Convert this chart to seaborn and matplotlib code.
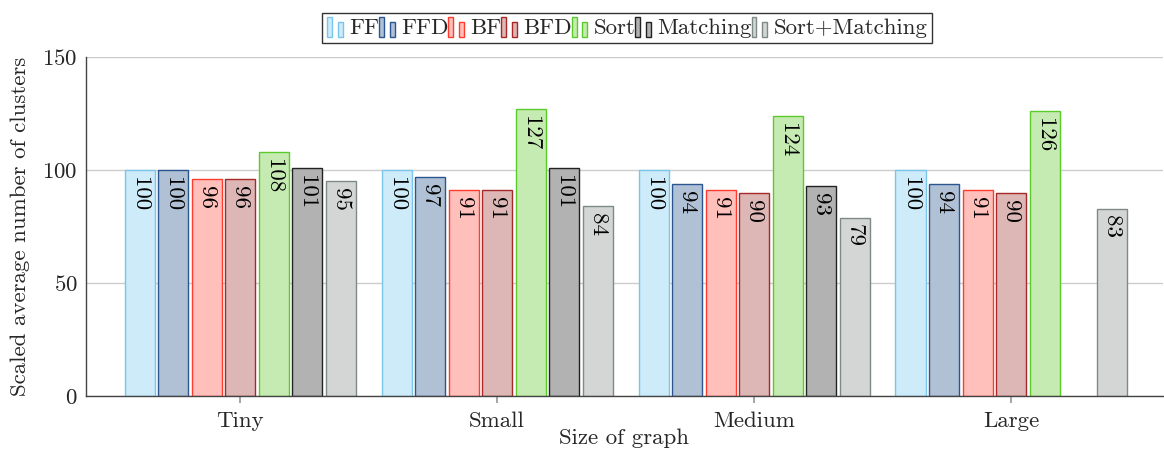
import numpy as np
import pandas as pd
import matplotlib
matplotlib.use("Agg")
import matplotlib.pyplot as plt
import matplotlib.patches as mpatches
from matplotlib.legend_handler import HandlerBase
import seaborn as sns

categories = ["Tiny", "Small", "Medium", "Large"]
methods = ["FF", "FFD", "BF", "BFD", "Sort", "Matching", "Sort+Matching"]
ff = [100, 100, 100, 100]
ffd = [100, 97, 94, 94]
bf = [96, 91, 91, 91]
bfd = [96, 91, 90, 90]
sort_ = [108, 127, 124, 126]
matching = [101, 101, 93, np.nan]
sort_matching = [95, 84, 79, 83]

fills = ["#CDEBF8", "#B1C1D5", "#FFBFBB", "#DDB6B6", "#C6EBB2", "#B2B2B2", "#D3D6D5"]
edges = ["#7BC4EA", "#2A5590", "#FF3B2F", "#A82828", "#5BCB2B", "#222222", "#7E8A85"]

series = [ff, ffd, bf, bfd, sort_, matching, sort_matching]
rows = []
for m, vals in zip(methods, series):
    for c, v in zip(categories, vals):
        if not np.isnan(v):
            rows.append({"size": c, "method": m, "value": v})
df = pd.DataFrame(rows)

sns.set_theme(style="white")
plt.rcParams["font.family"] = ["serif"]
plt.rcParams["font.serif"] = ["cmr10", "DejaVu Serif"]
plt.rcParams["mathtext.fontset"] = "cm"
plt.rcParams["axes.formatter.use_mathtext"] = True

FS = 16.5

fig = plt.figure(figsize=(11.64, 4.5), dpi=100)
ax = fig.add_axes([0.0739, 0.12, 0.925, 0.753])

sns.barplot(data=df, x="size", y="value", hue="method", order=categories,
            hue_order=methods, palette=fills, saturation=1, width=0.913,
            gap=0.10, errorbar=None, ax=ax, legend=False, linewidth=1.0)

fill2edge = {matplotlib.colors.to_hex(f): e for f, e in zip(fills, edges)}
for p in ax.patches:
    fc = matplotlib.colors.to_hex(p.get_facecolor())
    if fc in fill2edge:
        p.set_edgecolor(fill2edge[fc])
        p.set_linewidth(1.0)
        h = p.get_height()
        if np.isfinite(h) and h > 0:
            ax.annotate(f"{h:.0f}", xy=(p.get_x() + p.get_width() / 2, h),
                        xytext=(0, -5), textcoords="offset points",
                        ha="center", va="top", rotation=-90, fontsize=FS,
                        color="black")

ax.set_xlim(-0.6, 3.59)
ax.set_ylim(0, 150)
ax.set_yticks([0, 50, 100, 150])
ax.yaxis.grid(True, color="#CCCCCC", linewidth=1.0)
ax.set_axisbelow(True)
for s in ["top", "right"]:
    ax.spines[s].set_visible(False)
for s in ["left", "bottom"]:
    ax.spines[s].set_color("#444444")
    ax.spines[s].set_linewidth(1.0)
ax.tick_params(axis="x", length=5, color="#999999", labelsize=FS, pad=6, bottom=True)
ax.tick_params(axis="y", length=0, labelsize=FS, pad=6)
ax.set_xlabel("Size of graph", fontsize=FS, labelpad=-2)
ax.set_ylabel("Scaled average number of clusters", fontsize=FS, labelpad=9)


class TwoBarHandler(HandlerBase):
    def create_artists(self, legend, orig_handle, xdescent, ydescent, width,
                       height, fontsize, trans):
        fc = orig_handle.get_facecolor()
        ec = orig_handle.get_edgecolor()
        arts = []
        bw = width * 0.25
        for x0, hh in [(0, 1.25), (width * 0.55, 0.9)]:
            r = mpatches.Rectangle((x0 - xdescent, -ydescent - 0.15 * height),
                                   bw, height * hh, facecolor=fc, edgecolor=ec,
                                   linewidth=1.0, transform=trans)
            arts.append(r)
        return arts


handles = [mpatches.Patch(facecolor=f, edgecolor=e) for f, e in zip(fills, edges)]
leg = fig.legend(handles, methods, loc="center", bbox_to_anchor=(0.5390, 0.937),
                 ncol=7, frameon=True, fancybox=False, edgecolor="black",
                 fontsize=FS, handler_map={mpatches.Patch: TwoBarHandler()},
                 handlelength=0.85, handletextpad=0.1, columnspacing=0.0,
                 borderpad=0.22, borderaxespad=0)
leg.get_frame().set_linewidth(1.0)

fig.savefig("out.png", dpi=100)
